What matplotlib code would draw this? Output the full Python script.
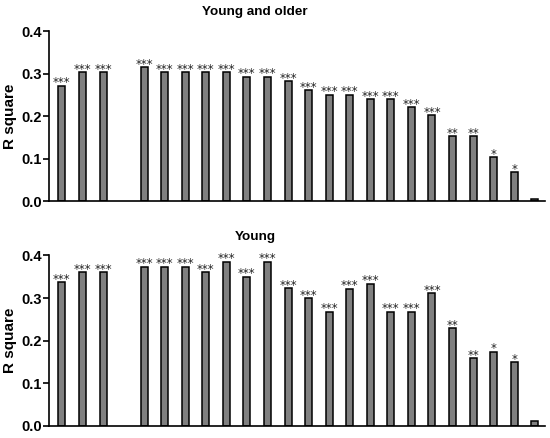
import numpy as np
import matplotlib
matplotlib.use("Agg")
import matplotlib.pyplot as plt

plt.rcParams['font.family'] = ['Liberation Sans', 'DejaVu Sans']

# slot index 3 is an empty gap
older_vals = [0.271, 0.303, 0.303, np.nan, 0.315, 0.303, 0.303, 0.303, 0.303, 0.292,
              0.292, 0.282, 0.261, 0.250, 0.250, 0.240, 0.240, 0.221, 0.202, 0.153,
              0.153, 0.103, 0.068, 0.004]
older_sig = ['***', '***', '***', '', '***', '***', '***', '***', '***', '***',
             '***', '***', '***', '***', '***', '***', '***', '***', '***', '**',
             '**', '*', '*', '']

young_vals = [0.337, 0.361, 0.361, np.nan, 0.373, 0.373, 0.373, 0.361, 0.385, 0.350,
              0.385, 0.323, 0.300, 0.268, 0.322, 0.334, 0.268, 0.268, 0.311, 0.229,
              0.159, 0.174, 0.150, 0.012]
young_sig = ['***', '***', '***', '', '***', '***', '***', '***', '***', '***',
             '***', '***', '***', '***', '***', '***', '***', '***', '***', '**',
             '**', '*', '*', '']

titles = ['Young and older', 'Young']
yticks = [0.0, 0.1, 0.2, 0.3, 0.4]

fig = plt.figure(figsize=(5.5, 4.38), dpi=100)
ax1 = fig.add_axes([0.089, 0.541, 0.902, 0.388])
ax2 = fig.add_axes([0.089, 0.0274, 0.902, 0.3893])

def draw(ax, vals, sig, title, ty):
    x = np.arange(len(vals))
    v = np.array(vals, dtype=float)
    mask = ~np.isnan(v)
    ax.bar(x[mask], v[mask], width=0.34, color='#808080', edgecolor='black', linewidth=1.1)
    for xi, vi, s in zip(x, v, sig):
        if s and not np.isnan(vi):
            ax.annotate(s, (xi, vi), xytext=(0, -2.5), textcoords='offset points',
                        ha='center', va='bottom', fontsize=8.5, family='DejaVu Sans',
                        color='#222222')
    ax.set_xlim(-0.63, 23.5)
    ax.set_ylim(0, 0.4)
    ax.set_yticks(yticks)
    ax.set_yticklabels([f'{t:.1f}' for t in yticks], fontsize=10.5, fontweight='bold')
    ax.set_xticks([])
    ax.spines['top'].set_visible(False)
    ax.spines['right'].set_visible(False)
    ax.spines['left'].set_linewidth(1.2)
    ax.spines['bottom'].set_linewidth(1.2)
    ax.tick_params(axis='y', direction='out', length=4, width=1.2, pad=1)
    ax.set_ylabel('R square', fontsize=11, fontweight='bold', labelpad=3.5)
    fig.text(255 / 550, 1 - ty / 438, title, ha='center', va='center',
             fontsize=9.7, fontweight='bold')

draw(ax1, older_vals, older_sig, titles[0], 12)
draw(ax2, young_vals, young_sig, titles[1], 237)

fig.savefig('out.png', dpi=100)
